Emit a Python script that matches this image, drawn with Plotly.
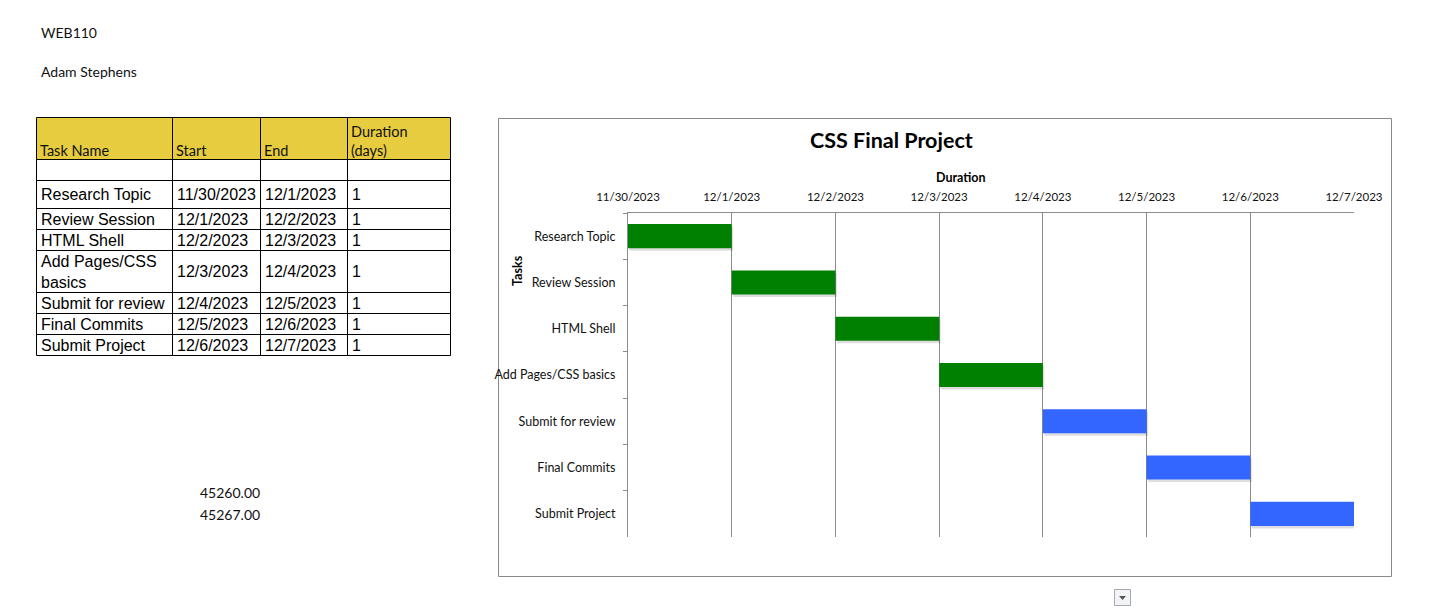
import plotly.graph_objects as go
import pandas as pd

# ---------------- data ----------------
header_text = ["WEB110", "Adam Stephens"]
table_columns = ["Task Name", "Start", "End", "Duration<br>(days)"]
tasks = ["Research Topic", "Review Session", "HTML Shell", "Add Pages/CSS basics",
         "Submit for review", "Final Commits", "Submit Project"]
start_dates = ["2023-11-30", "2023-12-01", "2023-12-02", "2023-12-03",
               "2023-12-04", "2023-12-05", "2023-12-06"]
end_dates = ["2023-12-01", "2023-12-02", "2023-12-03", "2023-12-04",
             "2023-12-05", "2023-12-06", "2023-12-07"]
durations = [1, 1, 1, 1, 1, 1, 1]
serial_numbers = ["45260.00", "45267.00"]
tick_dates = ["2023-11-30", "2023-12-01", "2023-12-02", "2023-12-03",
              "2023-12-04", "2023-12-05", "2023-12-06", "2023-12-07"]
tick_labels = ["11/30/2023", "12/1/2023", "12/2/2023", "12/3/2023",
               "12/4/2023", "12/5/2023", "12/6/2023", "12/7/2023"]
chart_title = "CSS Final Project"
x_title = "Duration"
y_title = "Tasks"

# ---------------- styles ----------------
W, H = 1437, 608
bar_colors = ["#008000"] * 4 + ["#3366FF"] * 3
CHART_FONT = "Lato, 'Open Sans', sans-serif"
TABLE_FONT = "'Liberation Sans', Arial, sans-serif"
GRID = "#8c8c8c"
BAR_WIDTH = 0.52


def px(x):
    return x / W


def py(y):
    return 1 - y / H


def fmt_date(s):
    d = pd.Timestamp(s)
    return f"{d.month}/{d.day}/{d.year}"


def wrap(s, n=18):
    if len(s) <= n:
        return s
    i = s.rfind(" ", 0, n)
    return s[:i] + "<br>" + s[i + 1:]


fig = go.Figure()

day_ms = 24 * 3600 * 1000
# soft drop shadow under each bar (same data, nudged ~1.5px right / 2px down)
shadow_shift_ms = int(day_ms * 1.5 / 103.7)
fig.add_trace(go.Bar(
    y=tasks,
    x=[d * day_ms for d in durations],
    base=[pd.Timestamp(s) + pd.Timedelta(milliseconds=shadow_shift_ms) for s in start_dates],
    orientation="h",
    marker=dict(color="rgba(0,0,0,0.13)", line=dict(width=0)),
    width=BAR_WIDTH,
    offset=-BAR_WIDTH / 2 + 2.5 / 46.3,
    showlegend=False,
    hoverinfo="skip",
))
fig.add_trace(go.Bar(
    y=tasks,
    x=[d * day_ms for d in durations],
    base=start_dates,
    orientation="h",
    marker=dict(color=bar_colors, line=dict(width=0)),
    width=BAR_WIDTH,
    offset=-BAR_WIDTH / 2,
    showlegend=False,
    hoverinfo="skip",
))

shapes = []
annotations = []

# ---- top-left text ----
for txt, y in zip(header_text, [33, 71]):
    annotations.append(dict(text=txt, x=px(38.5), y=py(y), xref="paper", yref="paper",
                            xanchor="left", yanchor="middle", showarrow=False,
                            font=dict(family=CHART_FONT, size=14, color="#111")))

# ---- table ----
col_edges = [36.5, 172.5, 260.5, 347.5, 450.5]
row_edges = [117.5, 159.5, 180.5, 208.5, 229.5, 250.5, 292.5, 313.5, 334.5, 355.5]

shapes.append(dict(type="rect", xref="paper", yref="paper",
                   x0=px(col_edges[0]), x1=px(col_edges[-1]),
                   y0=py(row_edges[0]), y1=py(row_edges[1]),
                   fillcolor="#E6CC3E", line=dict(width=0), layer="below"))
for x in col_edges:
    shapes.append(dict(type="line", xref="paper", yref="paper",
                       x0=px(x), x1=px(x), y0=py(row_edges[0]), y1=py(row_edges[-1]),
                       line=dict(color="black", width=1)))
for y in row_edges:
    shapes.append(dict(type="line", xref="paper", yref="paper",
                       x0=px(col_edges[0]), x1=px(col_edges[-1]), y0=py(y), y1=py(y),
                       line=dict(color="black", width=1)))

# header cells
for i, col in enumerate(table_columns):
    annotations.append(dict(text=col, x=px(col_edges[i] + 1), y=py(row_edges[1] + 1.5),
                            xref="paper", yref="paper", xanchor="left", yanchor="bottom",
                            align="left", showarrow=False,
                            font=dict(family=CHART_FONT, size=14.5, color="#111")))

# body rows (first body row is blank)
for r in range(len(tasks)):
    top, bot = row_edges[r + 2], row_edges[r + 3]
    yc = py((top + bot) / 2)
    cells = [wrap(tasks[r]), fmt_date(start_dates[r]), fmt_date(end_dates[r]), str(durations[r])]
    for c, txt in enumerate(cells):
        annotations.append(dict(text=txt, x=px(col_edges[c] + 2), y=yc,
                                xref="paper", yref="paper", xanchor="left", yanchor="middle",
                                align="left", showarrow=False,
                                font=dict(family=TABLE_FONT, size=16, color="black")))

# serial numbers
for txt, y in zip(serial_numbers, [492, 514]):
    annotations.append(dict(text=txt, x=px(197.5), y=py(y), xref="paper", yref="paper",
                            xanchor="left", yanchor="middle", showarrow=False,
                            font=dict(family=CHART_FONT, size=14, color="#111")))

# ---- chart frame ----
shapes.append(dict(type="rect", xref="paper", yref="paper",
                   x0=px(498.5), x1=px(1391.5), y0=py(118.5), y1=py(576.5),
                   line=dict(color="#8a8a8a", width=1), fillcolor="rgba(0,0,0,0)", layer="below"))

annotations.append(dict(text="<b>" + chart_title + "</b>", x=px(891), y=py(140),
                        xref="paper", yref="paper", xanchor="center", yanchor="middle",
                        showarrow=False, font=dict(family=CHART_FONT, size=21.5, color="black")))
annotations.append(dict(text="<b>" + x_title + "</b>", x=px(961), y=py(177),
                        xref="paper", yref="paper", xanchor="center", yanchor="middle",
                        showarrow=False, font=dict(family=CHART_FONT, size=12.5, color="black")))
annotations.append(dict(text="<b>" + y_title + "</b>", x=px(517), y=py(271),
                        xref="paper", yref="paper", xanchor="center", yanchor="middle",
                        textangle=-90, showarrow=False,
                        font=dict(family=CHART_FONT, size=12.5, color="black")))

# ---- dropdown icon ----
shapes.append(dict(type="rect", xref="paper", yref="paper",
                   x0=px(1114.5), x1=px(1130.5), y0=py(589.5), y1=py(605.5),
                   fillcolor="#f3f4f6", line=dict(color="#a4a8b0", width=1)))
shapes.append(dict(type="path", xref="paper", yref="paper",
                   path=f"M {px(1119)} {py(596)} L {px(1126)} {py(596)} L {px(1122.5)} {py(600)} Z",
                   fillcolor="#555", line=dict(width=0)))

fig.update_layout(
    width=W, height=H,
    margin=dict(l=0, r=0, t=0, b=0, autoexpand=False),
    paper_bgcolor="white", plot_bgcolor="white",
    barmode="overlay",
    shapes=shapes,
    annotations=annotations,
    xaxis=dict(
        domain=[px(628), px(1354)],
        type="date", side="top", automargin=False,
        range=[tick_dates[0], tick_dates[-1]],
        tickmode="array", tickvals=tick_dates, ticktext=tick_labels,
        showgrid=True, gridcolor=GRID, gridwidth=1,
        showline=True, linecolor=GRID, linewidth=1,
        ticks="", ticklabelstandoff=6,
        tickfont=dict(family=CHART_FONT, size=11.5, color="#111"),
        zeroline=False, fixedrange=True,
    ),
    yaxis=dict(
        domain=[py(537), py(213)],
        type="category", autorange="reversed", automargin=False,
        showgrid=False, showline=True, linecolor=GRID, linewidth=1,
        ticks="outside", ticklen=4, tickcolor=GRID, tickson="boundaries",
        ticklabelstandoff=9,
        tickfont=dict(family=CHART_FONT, size=12.5, color="#111"),
        fixedrange=True,
    ),
)

fig.write_html("out.html")
